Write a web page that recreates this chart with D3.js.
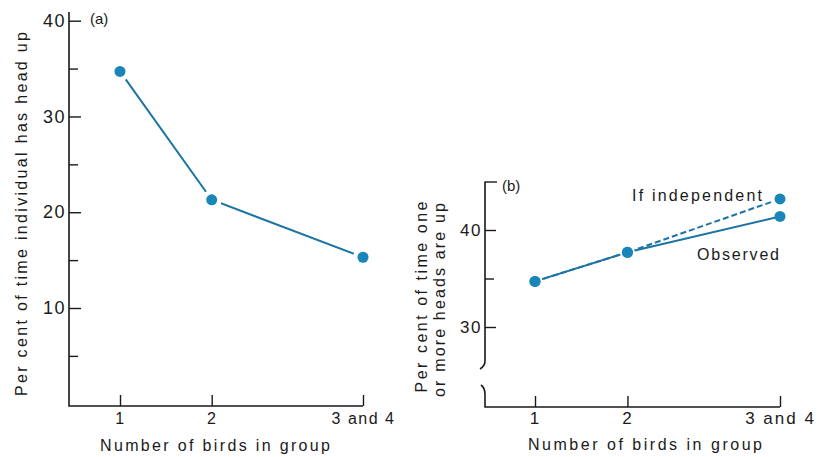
<!DOCTYPE html>
<html>
<head>
<meta charset="utf-8">
<script src="https://cdn.jsdelivr.net/npm/d3@7"></script>
<style>
  html, body { margin: 0; padding: 0; background: #fff; }
  svg { display: block; font-family: "Liberation Sans", Arial, Helvetica, sans-serif; }
</style>
</head>
<body>
<div id="chart"></div>
<script>
// ---- Data ----
const groupLabels = ["1", "2", "3 and 4"];
const groupPos = [1, 2, 3.65];          // "3 and 4" sits further right on the axis
const headUpIndividual = [34.7, 21.3, 15.3];   // panel (a)
const observedAnyUp = [34.7, 37.7, 41.4];      // panel (b) solid
const independentAnyUp = [34.7, 37.7, 43.2];   // panel (b) dashed
const ticksA = [10, 20, 30, 40];
const minorA = [5, 15, 25, 35];
const ticksB = [30, 40];
const minorB = [35];
const topTickB = [45];

const W = 818, H = 457;
const LINE = "#1b74a4", DOT = "#1a85b9", INK = "#1a1a1a";

const svg = d3.select("#chart").append("svg")
  .attr("width", W).attr("height", H)
  .attr("viewBox", `0 0 ${W} ${H}`);

function styleAxis(g, fs, ls) {
  g.select(".domain").remove();
  g.selectAll("line").attr("stroke", INK).attr("stroke-width", 1.4);
  g.selectAll("text").attr("fill", INK).attr("font-size", fs).attr("font-family", null)
    .attr("letter-spacing", ls || 0);
}

function seg(g, x, y, xs, ys, dash) {
  const line = d3.line().x((d, i) => x(xs[i])).y(d => y(d));
  g.append("path")
    .datum(ys)
    .attr("d", line)
    .attr("fill", "none")
    .attr("stroke", LINE)
    .attr("stroke-width", 2)
    .attr("stroke-dasharray", dash || null);
}

function dots(g, x, y, xs, ys, halo) {
  if (halo) {
    g.selectAll(null).data(ys).join("circle")
      .attr("cx", (d, i) => x(xs[i])).attr("cy", d => y(d))
      .attr("r", 5.5 + halo).attr("fill", "#fff");
  }
  g.selectAll(null).data(ys).join("circle")
    .attr("cx", (d, i) => x(xs[i])).attr("cy", d => y(d))
    .attr("r", 5.5).attr("fill", DOT);
}

// ================= Panel (a) =================
{
  const ax0 = 69, axBottom = 406;
  const x = d3.scaleLinear().domain([1, 3.65]).range([120, 363]);
  const y = d3.scaleLinear().domain([10, 40]).range([308, 20.7]);
  const g = svg.append("g");

  // axis lines
  g.append("path").attr("d", `M${ax0},12V${axBottom}H${x(3.65)}`)
    .attr("fill", "none").attr("stroke", INK).attr("stroke-width", 1.6);

  g.append("g").attr("transform", `translate(${ax0},0)`)
    .call(d3.axisLeft(y).tickValues(ticksA).tickSize(-12).tickPadding(3).tickFormat(d3.format("d")))
    .call(a => styleAxis(a, 18, 1.5));
  g.append("g").attr("transform", `translate(${ax0},0)`)
    .call(d3.axisLeft(y).tickValues(minorA).tickSize(-9).tickFormat(""))
    .call(a => styleAxis(a, 18));

  g.append("g").attr("transform", `translate(0,${axBottom})`)
    .call(d3.axisBottom(x).tickValues(groupPos).tickSize(-11).tickPadding(4)
      .tickFormat((d, i) => groupLabels[i]))
    .call(a => styleAxis(a, 16, 1.5))
    .call(a => a.selectAll("text").attr("dy", "0.9em"));

  g.append("text").attr("x", 90).attr("y", 24).attr("font-size", 15)
    .attr("fill", INK).text("(a)");

  g.append("text")
    .attr("transform", "translate(27,214) rotate(-90)")
    .attr("text-anchor", "middle").attr("font-size", 16).attr("fill", INK)
    .attr("textLength", 364).attr("lengthAdjust", "spacing")
    .text("Per cent of time individual has head up");

  g.append("text").attr("x", 215).attr("y", 451)
    .attr("text-anchor", "middle").attr("font-size", 16).attr("fill", INK)
    .attr("textLength", 230).attr("lengthAdjust", "spacing")
    .text("Number of birds in group");

  seg(g, x, y, groupPos, headUpIndividual);
  dots(g, x, y, groupPos, headUpIndividual, 4.5);
}

// ================= Panel (b) =================
{
  const ax0 = 485, axBottom = 407;
  const x = d3.scaleLinear().domain([1, 3.65]).range([535, 780]);
  const y = d3.scaleLinear().domain([30, 40]).range([327, 230]);
  const g = svg.append("g");

  // broken y axis + x axis
  g.append("path").attr("d", `M${ax0},${y(45)}V361Q${ax0},366 480,369`)
    .attr("fill", "none").attr("stroke", INK).attr("stroke-width", 1.6);
  g.append("path").attr("d", `M481,385Q${ax0},388 ${ax0},394V${axBottom}H${x(3.65)}`)
    .attr("fill", "none").attr("stroke", INK).attr("stroke-width", 1.6);

  g.append("g").attr("transform", `translate(${ax0},0)`)
    .call(d3.axisLeft(y).tickValues(ticksB).tickSize(-11).tickPadding(3).tickFormat(d3.format("d")))
    .call(a => styleAxis(a, 17, 1.5));
  g.append("g").attr("transform", `translate(${ax0},0)`)
    .call(d3.axisLeft(y).tickValues(minorB).tickSize(-9).tickFormat(""))
    .call(a => styleAxis(a, 16));
  g.append("g").attr("transform", `translate(${ax0},0)`)
    .call(d3.axisLeft(y).tickValues(topTickB).tickSize(-12).tickFormat(""))
    .call(a => styleAxis(a, 16));

  g.append("g").attr("transform", `translate(0,${axBottom})`)
    .call(d3.axisBottom(x).tickValues(groupPos).tickSize(-11).tickPadding(3)
      .tickFormat((d, i) => groupLabels[i]))
    .call(a => styleAxis(a, 17, 2))
    .call(a => a.selectAll("text").attr("dy", "0.85em"));

  g.append("text").attr("x", 502).attr("y", 191).attr("font-size", 15)
    .attr("fill", INK).text("(b)");

  g.append("text")
    .attr("transform", "translate(427,297) rotate(-90)")
    .attr("text-anchor", "middle").attr("font-size", 16).attr("fill", INK)
    .attr("textLength", 191).attr("lengthAdjust", "spacing")
    .text("Per cent of time one");
  g.append("text")
    .attr("transform", "translate(445,300) rotate(-90)")
    .attr("text-anchor", "middle").attr("font-size", 16).attr("fill", INK)
    .attr("textLength", 194).attr("lengthAdjust", "spacing")
    .text("or more heads are up");

  g.append("text").attr("x", 645).attr("y", 450)
    .attr("text-anchor", "middle").attr("font-size", 16).attr("fill", INK)
    .attr("textLength", 234).attr("lengthAdjust", "spacing")
    .text("Number of birds in group");

  g.append("text").attr("x", 632).attr("y", 201).attr("font-size", 16).attr("fill", INK)
    .attr("textLength", 130).attr("lengthAdjust", "spacing")
    .text("If independent");
  g.append("text").attr("x", 697).attr("y", 260).attr("font-size", 16).attr("fill", INK)
    .attr("textLength", 82).attr("lengthAdjust", "spacing")
    .text("Observed");

  seg(g, x, y, groupPos, independentAnyUp, "6,3");
  seg(g, x, y, groupPos, observedAnyUp);
  dots(g, x, y, groupPos, independentAnyUp, 2);
  dots(g, x, y, groupPos, observedAnyUp, 0);
}
</script>
</body>
</html>
